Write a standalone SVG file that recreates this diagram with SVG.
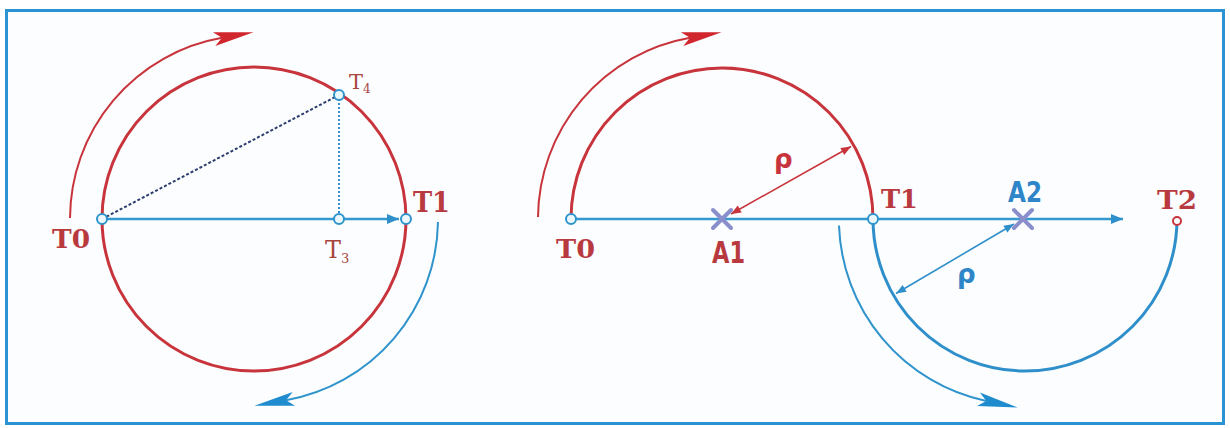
<svg xmlns="http://www.w3.org/2000/svg" width="1230" height="428" viewBox="0 0 1230 428">
<defs>
<style>
.circ{fill:none;stroke:#c8343c;stroke-width:3}
.barc{fill:none;stroke:#2f8fca;stroke-width:3}
.rout{fill:none;stroke:#c8343c;stroke-width:2}
.bout{fill:none;stroke:#2f93cc;stroke-width:2}
.axis{fill:none;stroke:#3399cf;stroke-width:2.5}
.pt{fill:#eaf7fc;stroke:#2f93cc;stroke-width:2}
.ptr{fill:#ffffff;stroke:#c8343c;stroke-width:2}
.xm{stroke:#8a8fcb;stroke-width:4;stroke-linecap:round}
.ser{font-family:"DejaVu Serif","Liberation Serif",serif;font-weight:bold;fill:#b83a3e}
.sub{font-family:"DejaVu Serif","Liberation Serif",serif;font-weight:normal;fill:#a8463e}
.san{font-family:"DejaVu Sans","Liberation Sans",sans-serif;font-weight:bold}
</style>
<marker id="hR" markerUnits="userSpaceOnUse" orient="auto" refX="8" refY="0" markerWidth="50" markerHeight="20" overflow="visible"><path d="M0,-7 L40,0 L0,7 L8,0 Z" fill="#d0262e"/></marker>
<marker id="hB" markerUnits="userSpaceOnUse" orient="auto" refX="8" refY="0" markerWidth="50" markerHeight="20" overflow="visible"><path d="M0,-7 L40,0 L0,7 L8,0 Z" fill="#1f8ccf"/></marker>
<marker id="sB" markerUnits="userSpaceOnUse" orient="auto" refX="12" refY="0" markerWidth="14" markerHeight="12" overflow="visible"><path d="M0,-5 L12,0 L0,5 Z" fill="#2f8fca"/></marker>
<marker id="dR" markerUnits="userSpaceOnUse" orient="auto-start-reverse" refX="10" refY="0" markerWidth="12" markerHeight="10" overflow="visible"><path d="M0,-4 L10,0 L0,4 Z" fill="#c8343c"/></marker>
<marker id="dB" markerUnits="userSpaceOnUse" orient="auto-start-reverse" refX="10" refY="0" markerWidth="12" markerHeight="10" overflow="visible"><path d="M0,-4 L10,0 L0,4 Z" fill="#2f8fca"/></marker>
</defs>
<rect x="0" y="0" width="1230" height="428" fill="#ffffff"/>
<rect x="6.5" y="10.5" width="1217" height="413" fill="#fcfdfe" stroke="#2a93d4" stroke-width="3"/>

<g id="connectors">
<circle class="circ" cx="254" cy="219" r="152"/>
<path class="rout" d="M 70 218 A 184 184 0 0 1 222 37.8" marker-end="url(#hR)"/>
<path class="bout" d="M 438 222 A 184 184 0 0 1 286 400.2" marker-end="url(#hB)"/>
<line class="axis" x1="102" y1="219" x2="399" y2="219" marker-end="url(#sB)"/>
<line x1="102" y1="219" x2="339" y2="95" stroke="#2c3d6e" stroke-width="2" stroke-dasharray="3 2"/>
<line x1="339" y1="95" x2="339" y2="219" stroke="#3a8cc8" stroke-width="2" stroke-dasharray="2 2"/>
<path class="circ" d="M 571 219 A 151 151 0 0 1 873 219"/>
<path class="barc" d="M 873 219 A 152 152 0 0 0 1177 219"/>
<path class="rout" d="M 538 217 A 184 184 0 0 1 690 37.8" marker-end="url(#hR)"/>
<path class="bout" d="M 839 225.5 A 186 186 0 0 0 986.3 400.9" marker-end="url(#hB)"/>
<line class="axis" x1="571" y1="219" x2="1123" y2="219" marker-end="url(#sB)"/>
<line x1="731" y1="214" x2="851" y2="146.5" stroke="#c8343c" stroke-width="1.6" marker-start="url(#dR)" marker-end="url(#dR)"/>
<line x1="1014" y1="224" x2="896" y2="293.5" stroke="#2f8fca" stroke-width="1.6" marker-start="url(#dB)" marker-end="url(#dB)"/>
</g>

<g id="L-T0"><circle class="pt" cx="102" cy="219" r="5"/><text class="ser" x="52" y="248" font-size="26" textLength="38" lengthAdjust="spacingAndGlyphs">T0</text></g>
<g id="L-T3"><circle class="pt" cx="339" cy="219" r="5"/><text class="sub" x="325" y="258" font-size="24">T<tspan font-size="13" dy="5">3</tspan></text></g>
<g id="L-T4"><circle class="pt" cx="339" cy="95" r="5"/><text class="sub" x="349" y="89" font-size="21">T<tspan font-size="12" dy="4">4</tspan></text></g>
<g id="L-T1"><circle class="pt" cx="406" cy="219" r="5"/><text class="ser" x="413" y="212" font-size="28" textLength="37" lengthAdjust="spacingAndGlyphs">T1</text></g>

<g id="R-T0"><circle class="pt" cx="571" cy="219" r="5"/><text class="ser" x="556" y="258" font-size="26" textLength="39" lengthAdjust="spacingAndGlyphs">T0</text></g>
<g id="R-A1"><line class="xm" x1="713" y1="210" x2="731" y2="228"/><line class="xm" x1="731" y1="210" x2="713" y2="228"/><text class="san" x="712" y="263" font-size="30" fill="#b83a3e" textLength="33" lengthAdjust="spacingAndGlyphs">A1</text></g>
<g id="R-rho1"><text class="san" x="774" y="168" font-size="26" fill="#c8343c">ρ</text></g>
<g id="R-T1"><circle class="pt" cx="873" cy="219" r="5"/><text class="ser" x="881" y="208" font-size="26" textLength="37" lengthAdjust="spacingAndGlyphs">T1</text></g>
<g id="R-A2"><line class="xm" x1="1014" y1="210" x2="1032" y2="228"/><line class="xm" x1="1032" y1="210" x2="1014" y2="228"/><text class="san" x="1008" y="202" font-size="28" fill="#2e86c8" textLength="34" lengthAdjust="spacingAndGlyphs">A2</text></g>
<g id="R-rho2"><text class="san" x="957" y="283" font-size="26" fill="#2e86c8">ρ</text></g>
<g id="R-T2"><circle class="ptr" cx="1177" cy="221" r="4"/><text class="ser" x="1157" y="209" font-size="26" textLength="40" lengthAdjust="spacingAndGlyphs">T2</text></g>
</svg>
